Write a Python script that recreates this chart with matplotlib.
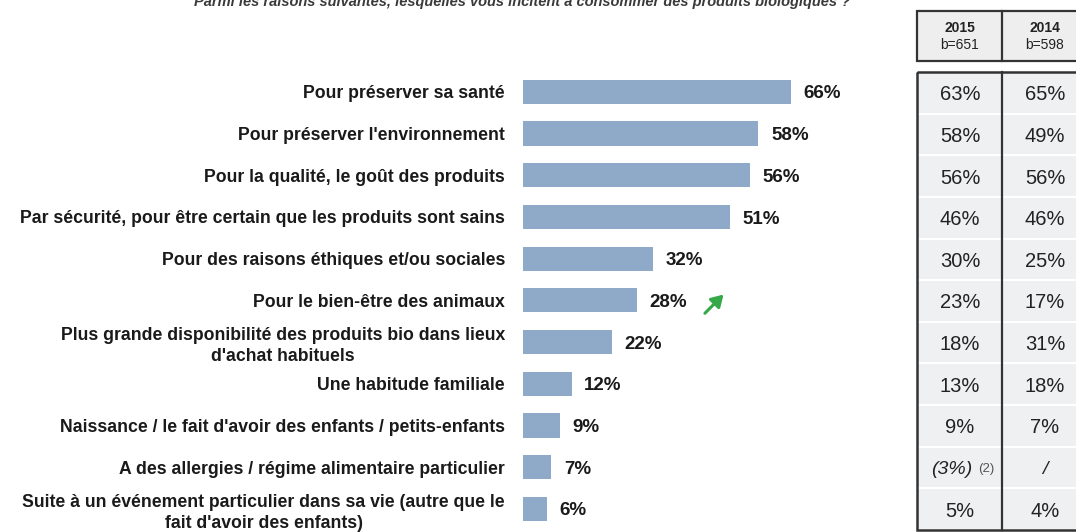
import matplotlib
matplotlib.use("Agg")
import matplotlib.pyplot as plt
from matplotlib.patches import Rectangle

# ---------------------------- data ----------------------------------------#

title = ("Parmi les raisons suivantes, lesquelles vous incitent à consommer "
         "des produits biologiques ?")

reasons = [
    "Pour préserver sa santé",
    "Pour préserver l'environnement",
    "Pour la qualité, le goût des produits",
    "Par sécurité, pour être certain que les produits sont sains",
    "Pour des raisons éthiques et/ou sociales",
    "Pour le bien-être des animaux",
    "Plus grande disponibilité des produits bio dans lieux\nd'achat habituels",
    "Une habitude familiale",
    "Naissance / le fait d'avoir des enfants / petits-enfants",
    "A des allergies / régime alimentaire particulier",
    "Suite à un événement particulier dans sa vie (autre que le\nfait d'avoir des enfants)",
]
share_2016 = [66, 58, 56, 51, 32, 28, 22, 12, 9, 7, 6]

headers = [("2015", "b=651"), ("2014", "b=598")]
share_2015 = ["63%", "58%", "56%", "46%", "30%", "23%", "18%", "13%", "9%", "(3%)", "5%"]
share_2014 = ["65%", "49%", "56%", "46%", "25%", "17%", "31%", "18%", "7%", "/", "4%"]

# rows flagged with a significant increase
rising = [5]

# ---------------------------- style ---------------------------------------#

BAR = "#8faac9"
INK = "#1a1a1a"
CELL = "#eff0f2"
EDGE = "#333333"
GREEN = "#35a84a"

plt.rcParams["font.family"] = ["Liberation Sans", "DejaVu Sans"]

W, H = 1076, 532
fig = plt.figure(figsize=(W / 100, H / 100), dpi=100)

# bar area, laid out in pixels
n = len(reasons)
row_h = 41.7
top = 71.0
left = 523
xmax = 90
px_per_pct = 4.06
ax = fig.add_axes([left / W, 1 - (top + n * row_h) / H,
                   xmax * px_per_pct / W, n * row_h / H])

ypos = list(range(n))
ax.barh(ypos, share_2016, height=0.58, color=BAR, zorder=2)
ax.set_xlim(0, xmax)
ax.set_ylim(n - 0.5, -0.5)
ax.set_yticks(ypos)
ax.set_yticklabels(reasons, fontsize=12.7, fontweight="bold", color=INK,
                   multialignment="center", linespacing=1.3)
ax.tick_params(axis="y", length=0, pad=13)
ax.tick_params(axis="x", bottom=False, labelbottom=False)
for s in ax.spines.values():
    s.set_visible(False)

for y, v in zip(ypos, share_2016):
    ax.annotate(f"{v}%", (v, y), xytext=(9, -1.5), textcoords="offset points",
                ha="left", va="center", fontsize=13.5, fontweight="bold",
                color=INK)

# green trend arrow next to the label
for r in rising:
    x0 = share_2016[r] + 16.8
    ax.annotate("", xy=(x0 + 4.6, r - 0.14), xytext=(x0, r + 0.31),
                arrowprops=dict(arrowstyle="-|>,head_length=0.5,head_width=0.3",
                                color=GREEN, lw=2.2, mutation_scale=14,
                                shrinkA=0, shrinkB=0))

# overlay in pixel coordinates for title and comparison table
ov = fig.add_axes([0, 0, 1, 1], facecolor="none")
ov.set_xlim(0, W)
ov.set_ylim(H, 0)
ov.axis("off")

ov.text(522, 6, title, ha="center", va="baseline", fontsize=10.5,
        fontweight="bold", fontstyle="italic", color="#3a3a3a")

col_x = [917, 1002]
col_w = 86
hdr_top, hdr_bot = 11, 61
body_top = 72
body_bot = 530

# header box
ov.add_patch(Rectangle((col_x[0], hdr_top), 2 * col_w + 10, hdr_bot - hdr_top,
                       facecolor="#eeeeee", edgecolor=EDGE, lw=1.6))
ov.plot([col_x[1], col_x[1]], [hdr_top, hdr_bot], color=EDGE, lw=1.6)
for cx, (yr, base) in zip(col_x, headers):
    ov.text(cx + col_w / 2, 28, yr, ha="center", va="center", fontsize=10,
            fontweight="bold", color="#222222")
    ov.text(cx + col_w / 2, 45, base, ha="center", va="center", fontsize=10,
            color="#222222")

# body rows
body_row = (body_bot - body_top) / n
for i in range(n):
    y0 = body_top + i * body_row
    ov.add_patch(Rectangle((col_x[0], y0), 2 * col_w + 10, body_row,
                           facecolor=CELL, edgecolor="white", lw=1.5))
ov.add_patch(Rectangle((col_x[0], body_top), 2 * col_w + 10,
                       body_bot - body_top, facecolor="none",
                       edgecolor=EDGE, lw=1.8))
ov.plot([col_x[1], col_x[1]], [body_top, body_bot], color=EDGE, lw=1.6)

for i, (a, b) in enumerate(zip(share_2015, share_2014)):
    yc = body_top + (i + 0.5) * body_row + 2
    for cx, val in zip(col_x, (a, b)):
        xc = cx + col_w / 2
        if val.startswith("("):
            ov.text(xc - 8, yc, val, ha="center", va="center", fontsize=14,
                    fontstyle="italic", color="#222222")
            ov.text(xc + 26, yc - 1, "(2)", ha="center", va="center",
                    fontsize=9.5, color="#555555")
        elif val == "/":
            ov.text(xc, yc, val, ha="center", va="center", fontsize=14,
                    fontstyle="italic", color="#222222")
        else:
            ov.text(xc, yc, val, ha="center", va="center", fontsize=14.5,
                    color="#222222")

fig.savefig("out.png", dpi=100)
